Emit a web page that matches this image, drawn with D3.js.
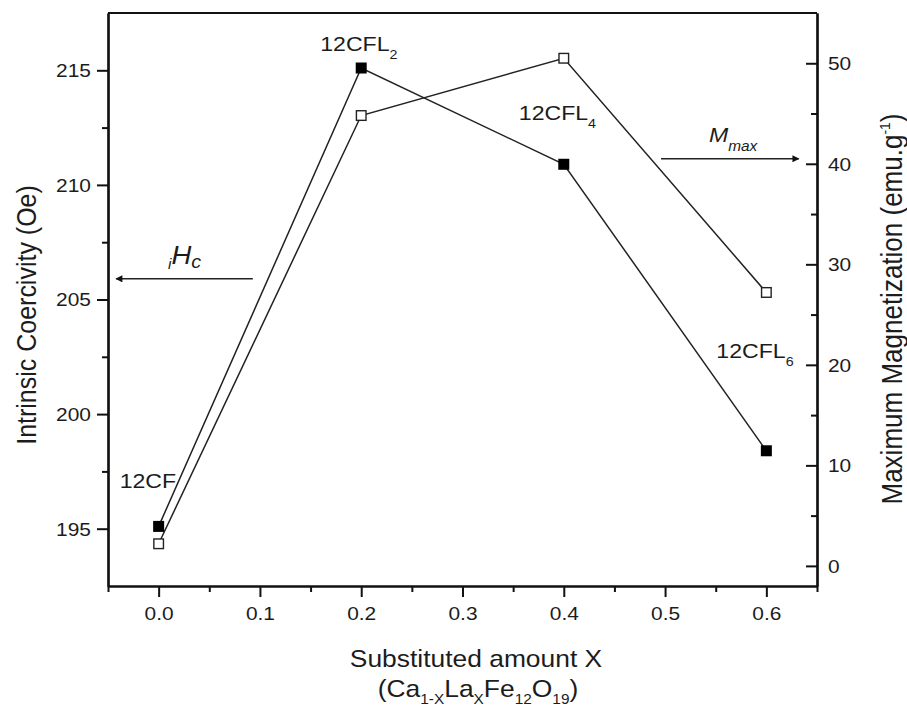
<!DOCTYPE html>
<html>
<head>
<meta charset="utf-8">
<script src="https://cdn.jsdelivr.net/npm/d3@7"></script>
<style>
  html, body { margin: 0; padding: 0; background: #ffffff; }
  svg { display: block; }
  text { font-family: "Liberation Sans", Arial, sans-serif; fill: #1c1c1c; }
</style>
</head>
<body>
<svg id="chart" width="907" height="711"></svg>
<script>
// ---- data ----
const xValues = [0.0, 0.2, 0.4, 0.6];
const coercivity = [195.1, 215.1, 210.9, 198.4];      // left axis (Oe), filled squares
const magnetization = [2.2, 44.8, 50.5, 27.2];        // right axis (emu/g), open squares
const sampleNames = ["12CF", "12CFL", "12CFL", "12CFL"];
const sampleSubs = ["", "2", "4", "6"];
const xTicks = [0.0, 0.1, 0.2, 0.3, 0.4, 0.5, 0.6];
const xMinorTicks = [-0.05, 0.05, 0.15, 0.25, 0.35, 0.45, 0.55, 0.65];
const leftTicks = [195, 200, 205, 210, 215];
const leftMinorTicks = [197.5, 202.5, 207.5, 212.5];
const rightTicks = [0, 10, 20, 30, 40, 50];
const rightMinorTicks = [5, 15, 25, 35, 45];

// ---- layout ----
const SX = 1.1; // horizontal stretch of the original figure's text
const svg = d3.select("#chart");
const x = d3.scaleLinear().domain([-0.05, 0.65]).range([108, 817]);
const yL = d3.scaleLinear().domain([192.5, 217.5]).range([586, 13]);
const yR = d3.scaleLinear().domain([-2, 55]).range([586, 13]);
const labelOffsets = [[-39, -38], [-41, -17], [-45, -44], [-50, -93]];

function stretch(sel, px, py, rot) {
  sel.attr("x", 0).attr("y", 0)
     .attr("transform", rot ? `translate(${px},${py}) rotate(-90) scale(1,${SX})`
                            : `translate(${px},${py}) scale(${SX},1)`);
  return sel;
}

const ink = "#111";

// ---- axes ----
const gB = svg.append("g").attr("transform", `translate(0,586)`);
gB.call(d3.axisBottom(x).tickValues(xTicks).tickFormat(d3.format(".1f")).tickSize(11).tickSizeOuter(0));
gB.append("g").call(d3.axisBottom(x).tickValues(xMinorTicks).tickFormat("").tickSize(6).tickSizeOuter(0));
gB.selectAll("text").each(function(d) {
  const t = d3.select(this);
  t.attr("dy", null).style("font-size", "19px").attr("text-anchor", "middle");
  stretch(t, 0, 34, false);
});

const gL = svg.append("g").attr("transform", `translate(108,0)`);
gL.call(d3.axisLeft(yL).tickValues(leftTicks).tickFormat(d3.format("d")).tickSize(11).tickSizeOuter(0));
gL.append("g").call(d3.axisLeft(yL).tickValues(leftMinorTicks).tickFormat("").tickSize(6).tickSizeOuter(0));
gL.selectAll("text").each(function() {
  const t = d3.select(this);
  t.style("font-size", "19px").attr("text-anchor", "end");
  stretch(t, -17, 0, false).attr("dy", "0.34em");
});

const gR = svg.append("g").attr("transform", `translate(817,0)`);
gR.call(d3.axisRight(yR).tickValues(rightTicks).tickFormat(d3.format("d")).tickSize(-11).tickSizeOuter(0));
gR.append("g").call(d3.axisRight(yR).tickValues(rightMinorTicks).tickFormat("").tickSize(-6).tickSizeOuter(0));
gR.selectAll("text").each(function() {
  const t = d3.select(this);
  t.style("font-size", "19px").attr("text-anchor", "start");
  stretch(t, 11, 0, false).attr("dy", "0.34em");
});

svg.selectAll(".domain").attr("stroke", ink).attr("stroke-width", 2.2);
svg.selectAll(".tick line").attr("stroke", ink).attr("stroke-width", 2);

// top border
svg.append("line")
  .attr("x1", x(-0.05)).attr("x2", x(0.65))
  .attr("y1", yL(217.5)).attr("y2", yL(217.5))
  .attr("stroke", ink).attr("stroke-width", 2.2);

// ---- axis titles ----
const xt = svg.append("text").style("font-size", "24px").attr("text-anchor", "middle").text("Substituted amount X");
stretch(xt, 476, 667, false);
const xt2 = svg.append("text").style("font-size", "24px").attr("text-anchor", "middle");
xt2.append("tspan").text("(Ca");
xt2.append("tspan").style("font-size", "14px").attr("dy", 7).text("1-X");
xt2.append("tspan").attr("dy", -7).text("La");
xt2.append("tspan").style("font-size", "14px").attr("dy", 7).text("X");
xt2.append("tspan").attr("dy", -7).text("Fe");
xt2.append("tspan").style("font-size", "14px").attr("dy", 7).text("12");
xt2.append("tspan").attr("dy", -7).text("O");
xt2.append("tspan").style("font-size", "14px").attr("dy", 7).text("19");
xt2.append("tspan").attr("dy", -7).text(")");
stretch(xt2, 478, 697, false);

const ylt = svg.append("text").style("font-size", "25px").attr("text-anchor", "middle").text("Intrinsic Coercivity (Oe)");
stretch(ylt, 36, 315, true);

const yrt = svg.append("text").style("font-size", "26px").attr("text-anchor", "middle");
yrt.append("tspan").text("Maximum Magnetization (emu.g");
yrt.append("tspan").style("font-size", "14px").attr("dy", -11).text("-1");
yrt.append("tspan").attr("dy", 11).text(")");
stretch(yrt, 902, 309, true);

// ---- series ----
const ptsH = xValues.map((v, i) => [v, coercivity[i]]);
const ptsM = xValues.map((v, i) => [v, magnetization[i]]);

svg.append("path").datum(ptsH)
  .attr("d", d3.line().x(d => x(d[0])).y(d => yL(d[1])))
  .attr("fill", "none").attr("stroke", "#222").attr("stroke-width", 1.5);
svg.append("path").datum(ptsM)
  .attr("d", d3.line().x(d => x(d[0])).y(d => yR(d[1])))
  .attr("fill", "none").attr("stroke", "#222").attr("stroke-width", 1.5);

const ms = 11;
svg.selectAll(".mH").data(ptsH).enter().append("rect")
  .attr("x", d => x(d[0]) - ms / 2).attr("y", d => yL(d[1]) - ms / 2)
  .attr("width", ms).attr("height", ms).attr("fill", "#000");
svg.selectAll(".mM").data(ptsM).enter().append("rect")
  .attr("x", d => x(d[0]) - (ms - 1.4) / 2).attr("y", d => yR(d[1]) - (ms - 1.4) / 2)
  .attr("width", ms - 1.4).attr("height", ms - 1.4)
  .attr("fill", "#fff").attr("stroke", "#222").attr("stroke-width", 1.4);

// ---- sample labels ----
ptsH.forEach((d, i) => {
  const t = svg.append("text").style("font-size", "21px");
  t.append("tspan").text(sampleNames[i]);
  if (sampleSubs[i]) t.append("tspan").style("font-size", "13px").attr("dy", 8).text(sampleSubs[i]);
  stretch(t, x(d[0]) + labelOffsets[i][0], yL(d[1]) + labelOffsets[i][1], false);
});

// ---- arrows ----
const defs = svg.append("defs");
defs.append("marker").attr("id", "arr").attr("viewBox", "0 0 10 10")
  .attr("refX", 9).attr("refY", 5).attr("markerWidth", 9).attr("markerHeight", 7)
  .attr("markerUnits", "userSpaceOnUse").attr("orient", "auto")
  .append("path").attr("d", "M0,0 L10,5 L0,10 Z").attr("fill", "#111");

const hcY = yL(205.9);
svg.append("line").attr("x1", x(0.093)).attr("x2", x(-0.042)).attr("y1", hcY).attr("y2", hcY)
  .attr("stroke", "#222").attr("stroke-width", 1.5).attr("marker-end", "url(#arr)");
const mY = yR(40.5);
svg.append("line").attr("x1", x(0.496)).attr("x2", x(0.632)).attr("y1", mY).attr("y2", mY)
  .attr("stroke", "#222").attr("stroke-width", 1.5).attr("marker-end", "url(#arr)");

// iHc label
const hcl = svg.append("text").style("font-size", "25px").style("font-style", "italic");
hcl.append("tspan").style("font-size", "14px").attr("dy", 5).text("i");
hcl.append("tspan").attr("dy", -5).text("H");
hcl.append("tspan").style("font-size", "18px").attr("dy", 4).text("c");
stretch(hcl, 168, 264, false);

// Mmax label
const mml = svg.append("text").style("font-size", "21px").style("font-style", "italic");
mml.append("tspan").text("M");
mml.append("tspan").style("font-size", "14px").attr("dy", 9).text("max");
stretch(mml, 709, 142, false);
</script>
</body>
</html>
